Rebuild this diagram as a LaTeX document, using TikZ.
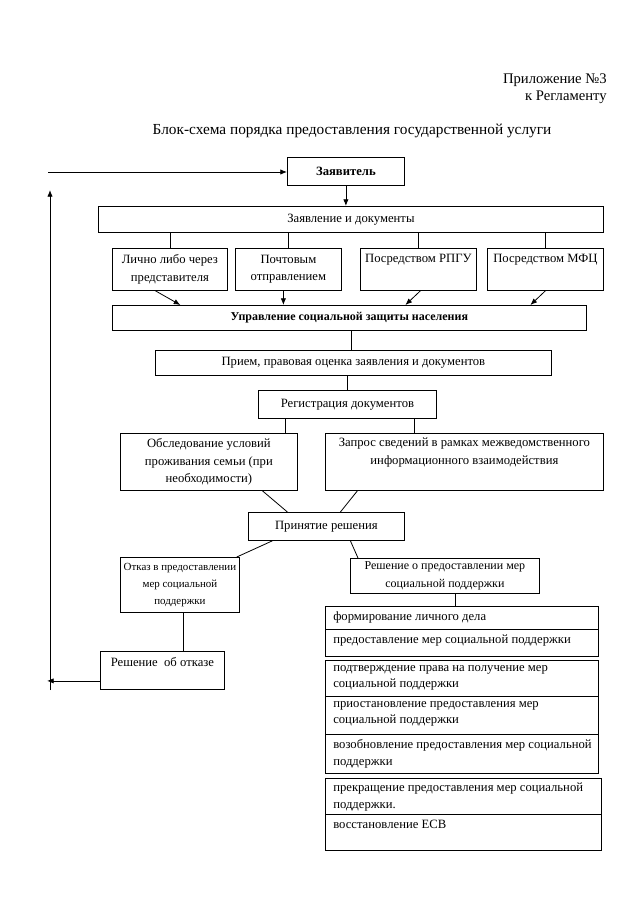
\documentclass[tikz,border=0pt]{standalone}
\usepackage{fontspec}
\setmainfont{Liberation Serif}
\usetikzlibrary{arrows.meta,calc}
\newcommand\bx[5]{\node[box, minimum width={(#4-#2)*0.75pt}, minimum height={(#5-#3)*0.75pt}] (#1) at (#2,#3) {};}
\begin{document}
\begin{tikzpicture}[x=0.75pt,y=-0.75pt,
  box/.style={draw, line width=0.6pt, inner sep=0pt, anchor=north west},
  txt/.style={font=\fontsize{9.5}{13}\selectfont, align=center, inner sep=0pt},
  stxt/.style={font=\fontsize{8.2}{13}\selectfont, align=center, inner sep=0pt},
  ltxt/.style={font=\fontsize{9.5}{12.5}\selectfont, align=left, inner sep=0pt, anchor=north west},
  hdr/.style={font=\fontsize{11}{13}\selectfont, inner sep=0pt},
  ln/.style={line width=0.6pt},
  arr/.style={line width=0.6pt, -{Latex[length=5pt,width=4pt]}}]
\useasboundingbox (0,0) rectangle (640,905);

% header
\node[hdr, anchor=east] (h1) at (607,80) {Приложение №3};
\node[hdr, anchor=east] (h2) at (607,97) {к Регламенту};
\node[hdr, font=\fontsize{11.5}{13}\selectfont] (title) at (352,131) {Блок-схема порядка предоставления государственной услуги};

% boxes
\bx{zv}{287}{157}{404}{185}
\bx{zd}{98}{206}{603}{232}
\bx{lich}{112}{248}{227}{290}
\bx{poch}{235}{248}{341}{290}
\bx{rpgu}{360}{248}{476}{290}
\bx{mfc}{487}{248}{603}{290}
\bx{upr}{112}{305}{586}{330}
\bx{priem}{155}{350}{551}{375}
\bx{reg}{258}{390}{436}{418}
\bx{obsl}{120}{433}{297}{490}
\bx{zapr}{325}{433}{603}{490}
\bx{prin}{248}{512}{404}{540}
\bx{otk}{120}{557}{239}{612}
\bx{rpr}{350}{558}{539}{593}
\bx{la}{325}{606}{598}{629}
\bx{lb}{325}{629}{598}{656}
\bx{lc}{325}{660}{598}{696}
\bx{ld}{325}{696}{598}{734}
\bx{le}{325}{734}{598}{773}
\bx{lf}{325}{778}{601}{814}
\bx{lg}{325}{814}{601}{850}
\bx{rotk}{100}{651}{224}{689}

% texts
\node[txt] (zv-t) at (zv.center) {\textbf{Заявитель}};
\node[txt] (zd-t) at (zd.center) {Заявление и документы};
\node[txt] (lich-t) at (lich.center) {Лично либо через\\представителя};
\node[txt] (poch-t) at (poch.center) {Почтовым\\отправлением};
\node[txt, anchor=north] (rpgu-t) at ($(rpgu.north)+(0,6)$) {Посредством РПГУ};
\node[txt, anchor=north] (mfc-t) at ($(mfc.north)+(0,6)$) {Посредством МФЦ};
\node[txt, font=\fontsize{9}{13}\selectfont] (upr-t) at (upr.center) {\textbf{Управление социальной защиты населения}};
\node[txt] (priem-t) at (priem.center) {Прием, правовая оценка заявления и документов};
\node[txt] (reg-t) at (reg.center) {Регистрация документов};
\node[txt] (obsl-t) at (obsl.center) {Обследование условий\\проживания семьи (при\\необходимости)};
\node[txt, anchor=north] (zapr-t) at ($(zapr.north)+(0,5)$) {Запрос сведений в рамках межведомственного\\информационного взаимодействия};
\node[txt] (prin-t) at (prin.center) {Принятие решения};
\node[stxt] (otk-t) at (otk.center) {Отказ в предоставлении\\мер социальной\\поддержки};
\node[txt, font=\fontsize{9}{13}\selectfont] (rpr-t) at (rpr.center) {Решение о предоставлении мер\\социальной поддержки};
\node[ltxt, anchor=west] (la-t) at ($(la.west)+(8,0)$) {формирование личного дела};
\node[ltxt] (lb-t) at ($(lb.north west)+(8,6)$) {предоставление мер социальной поддержки};
\node[ltxt] (lc-t) at ($(lc.north west)+(8,5)$) {подтверждение права на получение мер\\социальной поддержки};
\node[ltxt] (ld-t) at ($(ld.north west)+(8,5)$) {приостановление предоставления мер\\социальной поддержки};
\node[ltxt] (le-t) at ($(le.north west)+(8,5)$) {возобновление предоставления мер социальной\\поддержки};
\node[ltxt] (lf-t) at ($(lf.north west)+(8,5)$) {прекращение предоставления мер социальной\\поддержки.};
\node[ltxt] (lg-t) at ($(lg.north west)+(8,6)$) {восстановление ЕСВ};
\node[txt, anchor=north] (rotk-t) at ($(rotk.north)+(0,6)$) {Решение\ \ об отказе};

% connectors
\coordinate (inl) at (48,172);
\draw[arr] (inl) -- (inl -| zv.west);
\draw[arr] (zv.south) -- (zv.south |- zd.north);
\foreach \b in {lich,poch,rpgu,mfc} \draw[ln] (\b.north) -- (\b.north |- zd.south);
\draw[arr] ($(lich.south)+(-14.5,0)$) -- ($(upr.north)+(-169,0)$);
\draw[arr] ($(poch.south)+(-5,0)$) -- ($(upr.north)+(-66,0)$);
\draw[arr] ($(rpgu.south)+(2,0)$) -- ($(upr.north)+(56,0)$);
\draw[arr] ($(mfc.south)+(0,0)$) -- ($(upr.north)+(181,0)$);
\draw[ln] ($(upr.south)+(2,0)$) -- ($(upr.south)+(2,20)$);
\draw[ln] (reg.north) -- (reg.north |- priem.south);
\draw[ln] ($(reg.south)+(-62,0)$) -- ($(reg.south)+(-62,15)$);
\draw[ln] ($(reg.south)+(67,0)$) -- ($(reg.south)+(67,15)$);
\draw[ln] ($(obsl.south)+(53.5,0)$) -- ($(prin.north)+(-39,0)$);
\draw[ln] ($(zapr.south)+(-107,0)$) -- ($(prin.north)+(14,0)$);
\draw[ln] ($(prin.south)+(-54,0)$) -- ($(otk.north east)+(-3,0)$);
\draw[ln] ($(prin.south)+(24,0)$) -- ($(rpr.north west)+(8,0)$);
\draw[ln] (otk.south -| 183,0) -- (rotk.north -| 183,0);
\draw[ln] ($(rpr.south)+(10.5,0)$) -- ($(rpr.south)+(10.5,13)$);
\coordinate (lb1) at (50,690);
\coordinate (lt1) at (50,190);
\draw[arr] ($(rotk.west)+(0,10.5)$) -- ($(rotk.west)+(-53,10.5)$);
\draw[arr] (lb1) -- (lt1);
\end{tikzpicture}
\end{document}
